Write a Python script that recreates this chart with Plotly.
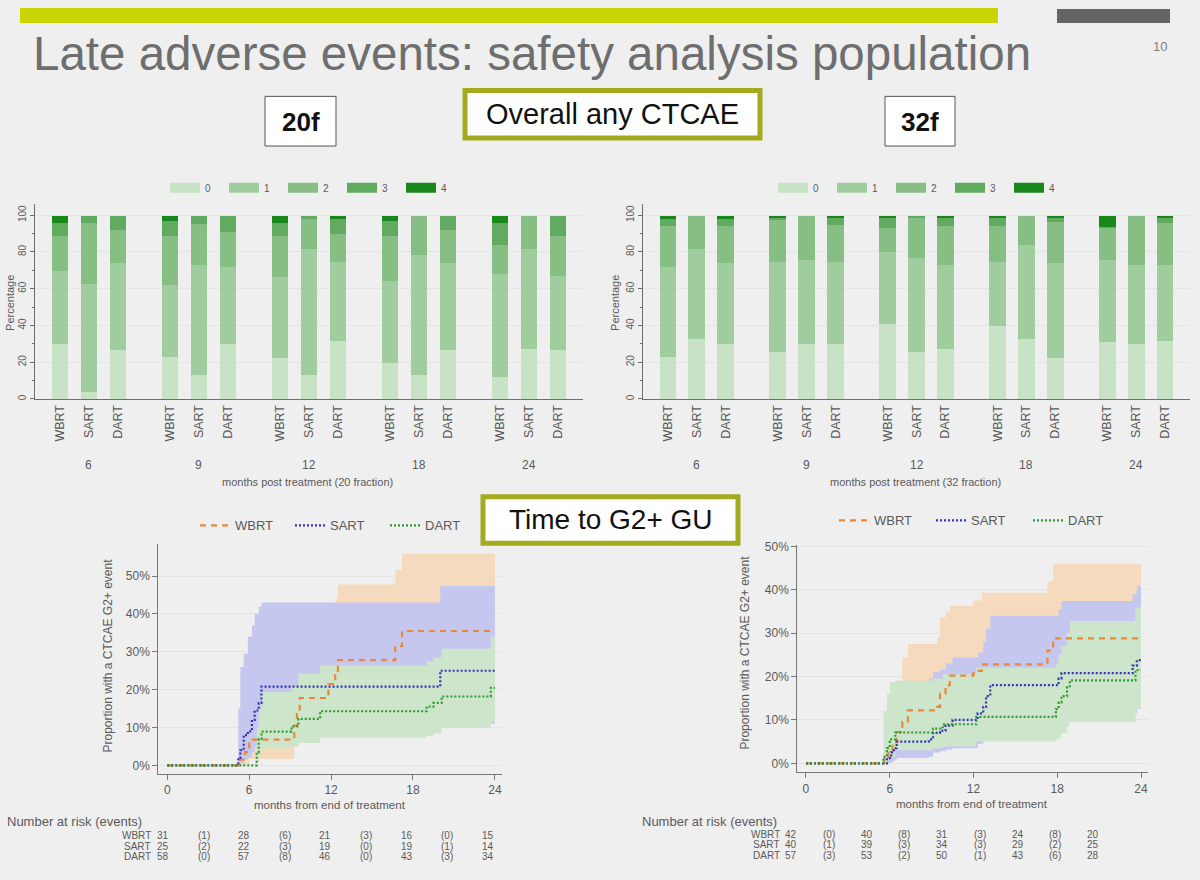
import plotly.graph_objects as go

W, H = 1200, 880
def px(x):
    return x / W
def py(y):
    return 1 - y / H

# ---------------- data ----------------
months = [6, 9, 12, 18, 24]
arms = ["WBRT", "SART", "DART"]
grades = ["0", "1", "2", "3", "4"]

# percentage per CTCAE grade, order: month-major, arm-minor (WBRT, SART, DART)
g0_20f = [30, 4, 27, 23, 13.5, 30, 22.5, 13.5, 31.5, 20, 13.5, 27, 12, 27.5, 27]
g1_20f = [40, 59, 47, 39, 59.5, 42, 44, 68.5, 43.5, 44.5, 65, 47, 56, 54.5, 40]
g2_20f = [19, 33, 18, 27, 22.5, 19, 22.5, 16, 15, 24.5, 21.5, 18, 16, 18, 22]
g3_20f = [7, 4, 8, 8, 4.5, 9, 7, 2, 8, 8, 0, 8, 12, 0, 11]
g4_20f = [4, 0, 0, 3, 0, 0, 4, 0, 2, 3, 0, 0, 4, 0, 0]

g0_32f = [23, 33, 30, 26, 30, 30, 41, 26, 27.5, 40, 33, 22.5, 31, 30, 32]
g1_32f = [49, 49, 44, 49, 46, 44.5, 39, 51, 45.5, 34.5, 51, 51.5, 45, 43, 41]
g2_32f = [22.5, 18, 20.5, 23, 24, 20.5, 13, 22, 21.5, 20, 16, 22.5, 17.5, 27, 23]
g3_32f = [3.5, 0, 3.5, 1, 0, 4, 5.5, 1, 4, 4, 0, 2.5, 0.5, 0, 3]
g4_32f = [2, 0, 2, 1, 0, 1, 1.5, 0, 1.5, 1.5, 0, 1, 6, 0, 1]

# cumulative incidence of G2+ GU (percent), 20 fraction
t_wbrt_20 = [0, 5.3, 5.7, 6.0, 9.3, 9.5, 9.7, 11.8, 12.3, 12.5, 16.7, 17.2, 24]
v_wbrt_20 = [0, 1.5, 3.5, 6.8, 10.5, 14, 17.8, 21.5, 24.5, 27.8, 31.5, 35.5, 35.5]
lo_wbrt_20 = [0, 0, 0.4, 1.7, 5, 6.5, 8, 10, 12, 14, 17, 20.5, 20.5]
hi_wbrt_20 = [0, 10, 17, 22, 27, 31, 35, 39, 44, 47.8, 51.7, 55.9, 55.9]

t_sart_20 = [0, 5.2, 5.35, 5.6, 5.9, 6.2, 6.4, 6.7, 6.9, 20.0, 24]
v_sart_20 = [0, 2, 4, 8, 9, 12, 14.5, 16.5, 20.8, 25, 25]
lo_sart_20 = [0, 0, 0.5, 1.5, 2, 3.5, 5, 6.5, 8.5, 11, 11]
hi_sart_20 = [0, 15, 26, 29.5, 34, 37, 40, 42, 43, 47.4, 47.4]

t_dart_20 = [0, 6.55, 6.7, 6.9, 9.1, 9.6, 11.2, 19.0, 19.5, 20.1, 23.7, 24]
v_dart_20 = [0, 3.5, 7, 8.9, 10.3, 12.3, 14.3, 15.5, 16.5, 18.2, 20.5, 20.5]
lo_dart_20 = [0, 0.8, 2.5, 4.5, 5, 5.9, 7.3, 7.8, 8.5, 10, 11.5, 11.5]
hi_dart_20 = [0, 10, 15, 19.4, 21, 24.2, 26.4, 27.5, 28.5, 30.8, 34, 34]

# 32 fraction
t_wbrt_32 = [0, 5.6, 5.9, 6.2, 6.5, 6.9, 7.3, 9.4, 9.6, 10.0, 10.3, 12.0, 12.6, 17.3, 17.7, 24]
v_wbrt_32 = [0, 1, 2.4, 4.8, 7.2, 9.6, 12.2, 13, 16, 18, 20.2, 21.3, 22.8, 26, 28.8, 28.8]
lo_wbrt_32 = [0, 0, 0.2, 0.8, 2, 3, 5, 5.5, 7, 8.5, 10, 11, 12.5, 15, 18, 18]
hi_wbrt_32 = [0, 8, 12, 15, 19, 24.4, 27.5, 29, 33.6, 35, 36.3, 37.5, 39.3, 42, 46, 46]

t_sart_32 = [0, 5.8, 6.1, 6.3, 6.5, 8.8, 9.1, 9.6, 10.0, 10.5, 12.3, 12.7, 12.9, 13.2, 18.1, 18.3, 23.4, 23.7, 24]
v_sart_32 = [0, 1.2, 2.5, 3.5, 5, 5.5, 7, 7.5, 8.7, 10, 11.5, 13, 15.5, 18, 19.5, 20.8, 22.5, 23.8, 23.8]
lo_sart_32 = [0, 0, 0.3, 0.7, 1.2, 1.5, 2.5, 2.8, 3.2, 3.5, 4.5, 5.5, 7, 8.5, 9.5, 10.5, 11.5, 12.5, 12.5]
hi_sart_32 = [0, 6, 10, 13, 18.7, 19.5, 21, 21.5, 23, 24.4, 25.5, 28, 31, 34, 35.5, 37.4, 39, 40.8, 40.8]

t_dart_32 = [0, 5.55, 5.8, 6.0, 6.4, 9.1, 9.8, 12.2, 17.9, 18.1, 18.3, 18.7, 18.9, 23.6, 24]
v_dart_32 = [0, 1.5, 3.5, 5.5, 7.1, 8, 9, 10.7, 12.5, 14, 15.5, 17.5, 19.1, 21.5, 21.5]
lo_dart_32 = [0, 0.2, 0.8, 1.5, 3, 3.5, 3.9, 5, 5.5, 6, 7, 8.5, 9.5, 12.6, 12.6]
hi_dart_32 = [0, 12, 16, 18.7, 19, 19.5, 20.5, 22, 23, 25, 27, 30, 32.8, 35.9, 35.9]

# number at risk and events
risk_20f = [[31, 28, 21, 16, 15], [25, 22, 19, 19, 14], [58, 57, 46, 43, 34]]
events_20f = [[1, 6, 3, 0], [2, 3, 0, 1], [0, 8, 0, 3]]
risk_32f = [[42, 40, 31, 24, 20], [40, 39, 34, 29, 25], [57, 53, 50, 43, 28]]
events_32f = [[0, 8, 3, 8], [1, 3, 3, 2], [3, 2, 1, 6]]

km_ticks = [0, 10, 20, 30, 40, 50]
km_xticks = [0, 6, 12, 18, 24]

# ---------------- style ----------------
BG = "#efefef"
FONT = "Liberation Sans"
TXT = "#5a5a5a"
bar_colors = ["#c7e2c4", "#a0cd9d", "#86be84", "#61ab60", "#19881b"]
line_colors = {"WBRT": "#e8893a", "SART": "#3434b8", "DART": "#2f9a2f"}
band_colors = {"WBRT": "#f5dabd", "SART": "#c6c7ef", "DART": "#cde6cb"}
line_dash = {"WBRT": "6px,5px", "SART": "2px,2px", "DART": "2px,2px"}
OLIVE = "#a4aa1e"

fig = go.Figure()

# ---------------- stacked bars ----------------
xpos = [mi * 3.8 + ai for mi in range(len(months)) for ai in range(len(arms))]
ticktext = [a for _ in months for a in arms]
sets = [([g0_20f, g1_20f, g2_20f, g3_20f, g4_20f], "x", "y", "legend"),
        ([g0_32f, g1_32f, g2_32f, g3_32f, g4_32f], "x2", "y2", "legend2")]
for gvals, xa, ya, lg in sets:
    for gi, vals in enumerate(gvals):
        fig.add_trace(go.Bar(x=xpos, y=vals, width=0.575, xaxis=xa, yaxis=ya,
                             marker=dict(color=bar_colors[gi], line=dict(width=0)),
                             showlegend=False, hoverinfo="skip"))
    for gi in range(len(grades)):
        fig.add_trace(go.Scatter(x=[None], y=[None], mode="lines", xaxis=xa, yaxis=ya,
                                 line=dict(color=bar_colors[gi], width=10),
                                 name=grades[gi], legend=lg))

# ---------------- KM curves ----------------
km_sets = [
    ("x3", "y3", "legend3", {
        "WBRT": (t_wbrt_20, v_wbrt_20, lo_wbrt_20, hi_wbrt_20),
        "SART": (t_sart_20, v_sart_20, lo_sart_20, hi_sart_20),
        "DART": (t_dart_20, v_dart_20, lo_dart_20, hi_dart_20)}),
    ("x4", "y4", "legend4", {
        "WBRT": (t_wbrt_32, v_wbrt_32, lo_wbrt_32, hi_wbrt_32),
        "SART": (t_sart_32, v_sart_32, lo_sart_32, hi_sart_32),
        "DART": (t_dart_32, v_dart_32, lo_dart_32, hi_dart_32)}),
]
for xa, ya, lg, d in km_sets:
    for arm in arms:
        t, v, lo, hi = d[arm]
        fig.add_trace(go.Scatter(x=t, y=lo, mode="lines", xaxis=xa, yaxis=ya,
                                 line=dict(width=0, shape="hv"), showlegend=False,
                                 hoverinfo="skip"))
        fig.add_trace(go.Scatter(x=t, y=hi, mode="lines", xaxis=xa, yaxis=ya,
                                 line=dict(width=0, shape="hv"), fill="tonexty",
                                 fillcolor=band_colors[arm], showlegend=False,
                                 hoverinfo="skip"))
    for arm in arms:
        t, v, lo, hi = d[arm]
        fig.add_trace(go.Scatter(x=t, y=v, mode="lines", xaxis=xa, yaxis=ya, name=arm,
                                 line=dict(color=line_colors[arm], width=2.2, shape="hv",
                                           dash=line_dash[arm]),
                                 legend=lg))

# ---------------- axes ----------------
bar_x = dict(range=[-0.86, 18.06], tickvals=xpos, ticktext=ticktext, tickangle=-90,
             showline=True, linecolor="#6e6e6e", linewidth=1, ticks="",
             showgrid=False, zeroline=False,
             tickfont=dict(size=12.5, color=TXT, family=FONT))
bar_y = dict(range=[0, 106.3], tickvals=[0, 20, 40, 60, 80, 100], tickangle=-90,
             showline=True, linecolor="#6e6e6e", linewidth=1, ticks="outside",
             ticklen=4, tickcolor="#6e6e6e", showgrid=True, gridcolor="#e4e4e4",
             zeroline=False, minor=dict(dtick=10, ticks="outside", ticklen=2,
                                        tickcolor="#6e6e6e", showgrid=False),
             tickfont=dict(size=10, color=TXT, family=FONT))
ybd = [py(396.7), py(200)]
km_x = dict(tickvals=km_xticks, showline=True, linecolor="#777", linewidth=1,
            ticks="outside", ticklen=5, tickcolor="#777", showgrid=False, zeroline=False,
            tickfont=dict(size=12, color=TXT, family=FONT))
km_y = dict(tickvals=km_ticks, ticktext=[f"{v}%" for v in km_ticks], showline=True,
            linecolor="#777", linewidth=1, ticks="outside", ticklen=5, tickcolor="#777",
            showgrid=True, gridcolor="#e3e3e3", zeroline=False,
            tickfont=dict(size=12, color=TXT, family=FONT))

fig.update_layout(
    xaxis=dict(domain=[px(35), px(583)], anchor="y", **bar_x),
    yaxis=dict(domain=ybd, anchor="x", **bar_y),
    xaxis2=dict(domain=[px(643), px(1190)], anchor="y2", **bar_x),
    yaxis2=dict(domain=ybd, anchor="x2", **bar_y),
    xaxis3=dict(domain=[px(158.3), px(501.7)], anchor="y3", range=[-0.66, 24.5], **km_x),
    yaxis3=dict(domain=[py(774), py(543)], anchor="x3", range=[-2.2, 58.4], **km_y),
    xaxis4=dict(domain=[px(797.3), px(1148)], anchor="y4", range=[-0.62, 24.5], **km_x),
    yaxis4=dict(domain=[py(772.7), py(543.3)], anchor="x4", range=[-2.1, 50.4], **km_y),
    barmode="stack",
    bargap=0,
)

leg_common = dict(orientation="h", xanchor="left", yanchor="middle", traceorder="normal",
                  bgcolor="rgba(0,0,0,0)", itemwidth=30, entrywidthmode="pixels",
                  tracegroupgap=0, itemclick=False)
fig.update_layout(
    legend=dict(x=px(165), y=py(184), entrywidth=14, font=dict(size=10, color=TXT, family=FONT), **leg_common),
    legend2=dict(x=px(773), y=py(184), entrywidth=14, font=dict(size=10, color=TXT, family=FONT), **leg_common),
    legend3=dict(x=px(195), y=py(524), entrywidth=50, font=dict(size=13, color=TXT, family=FONT), **leg_common),
    legend4=dict(x=px(834), y=py(519), entrywidth=52, font=dict(size=13, color=TXT, family=FONT), **leg_common),
)

# ---------------- annotations ----------------
ann = []
def text(x, y, s, size, color=TXT, xanchor="center", yanchor="middle", bold=False,
         angle=0, family=FONT):
    ann.append(dict(x=px(x), y=py(y), xref="paper", yref="paper", text=(f"<b>{s}</b>" if bold else s),
                    showarrow=False, xanchor=xanchor, yanchor=yanchor, textangle=angle,
                    font=dict(size=size, color=color, family=family)))

# slide title
text(31, 49, "Late adverse events: safety analysis population", 47.5, color="#6e6e6e", xanchor="left")
text(1160, 42, "10", 13, color="#808080")
text(300.5, 117.5, "20f", 26, color="#111", bold=True)
text(920, 117.5, "32f", 26, color="#111", bold=True)
text(612, 110, "Overall any CTCAE", 29, color="#111")
text(611, 518, "Time to G2+ GU", 28, color="#111")

# bar chart group labels and titles
for xr in ["x", "x2"]:
    for mi, m in enumerate(months):
        ann.append(dict(x=mi * 3.8 + 1, y=py(463), xref=xr, yref="paper", text=str(m),
                        showarrow=False, xanchor="center", yanchor="middle",
                        font=dict(size=12, color=TXT, family=FONT)))
text(307, 480, "months post treatment (20 fraction)", 11)
text(915, 480, "months post treatment (32 fraction)", 11)
text(10, 300, "Percentage", 11, angle=-90)
text(615, 300, "Percentage", 11, angle=-90)

# KM titles
text(108, 655, "Proportion with a CTCAE G2+ event", 12, angle=-90)
text(745, 652, "Proportion with a CTCAE G2+ event", 12, angle=-90)
text(330, 805, "months from end of treatment", 11.5)
text(972, 804, "months from end of treatment", 11.5)

# number at risk tables
def risk_table(x_head, x_lab, x0, step, y0, risk, events):
    text(x_head, 822, "Number at risk (events)", 13, xanchor="left")
    for ri, arm in enumerate(arms):
        y = y0 + ri * 10.5
        text(x_lab, y, arm, 10, xanchor="right")
        for k in range(9):
            s = str(risk[ri][k // 2]) if k % 2 == 0 else f"({events[ri][k // 2]})"
            text(x0 + k * step, y, s, 10)

risk_table(5, 153, 163, 40.6, 836.5, risk_20f, events_20f)
risk_table(640, 782, 791, 37.75, 835, risk_32f, events_32f)

# ---------------- shapes ----------------
shapes = [
    dict(type="rect", xref="paper", yref="paper", x0=px(20), x1=px(998), y0=py(18), y1=py(3),
         fillcolor="#c9d400", line=dict(width=0)),
    dict(type="rect", xref="paper", yref="paper", x0=px(1057), x1=px(1170), y0=py(18), y1=py(4),
         fillcolor="#656565", line=dict(width=0)),
    dict(type="rect", xref="paper", yref="paper", x0=px(265), x1=px(336), y0=py(142), y1=py(92),
         fillcolor="white", line=dict(color="#555", width=1)),
    dict(type="rect", xref="paper", yref="paper", x0=px(885), x1=px(955), y0=py(142), y1=py(92),
         fillcolor="white", line=dict(color="#555", width=1)),
    dict(type="rect", xref="paper", yref="paper", x0=px(465), x1=px(760), y0=py(134), y1=py(86),
         fillcolor="white", line=dict(color=OLIVE, width=5)),
    dict(type="rect", xref="paper", yref="paper", x0=px(483), x1=px(738), y0=py(542), y1=py(495),
         fillcolor="white", line=dict(color=OLIVE, width=5)),
]

fig.update_layout(
    width=W, height=H, margin=dict(l=0, r=0, t=0, b=0),
    paper_bgcolor=BG, plot_bgcolor=BG,
    font=dict(family=FONT, color=TXT),
    annotations=ann, shapes=shapes,
)

fig.write_html("out.html")
